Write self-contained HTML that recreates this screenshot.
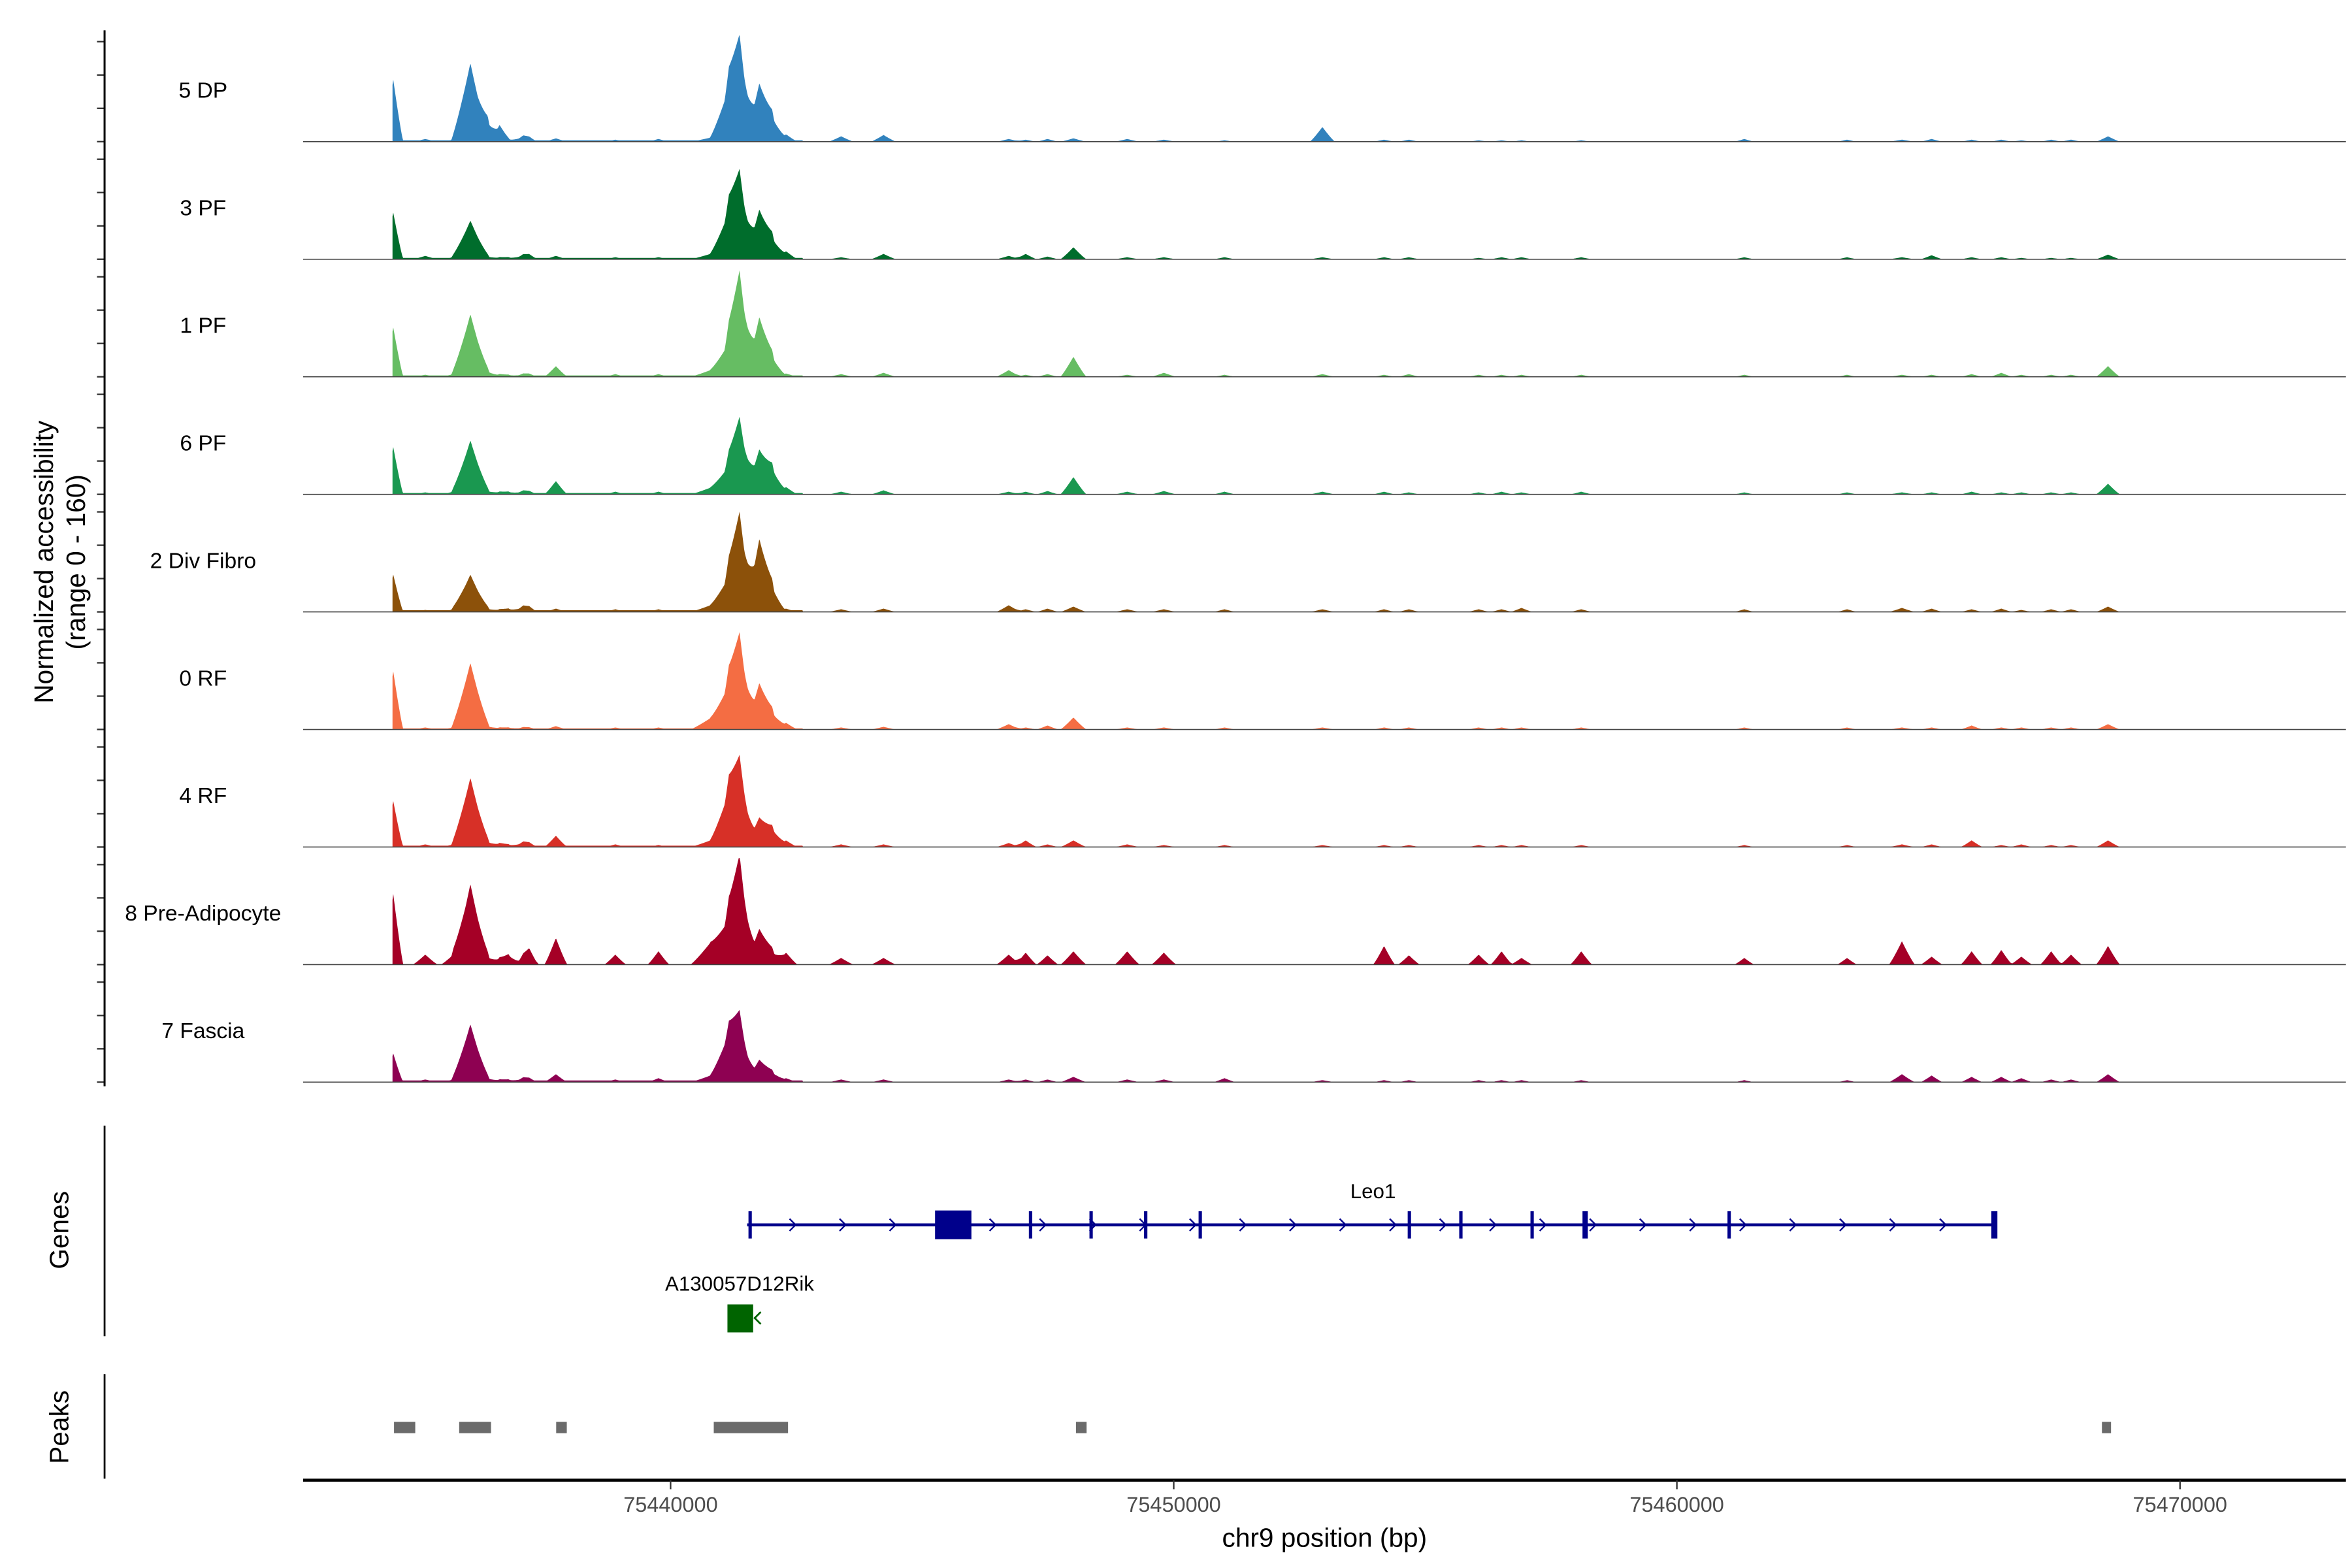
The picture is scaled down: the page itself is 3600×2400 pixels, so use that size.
<!DOCTYPE html>
<html><head><meta charset="utf-8"><style>
html,body{margin:0;padding:0;background:#fff;}
svg{display:block;}
text{font-family:"Liberation Sans",Arial,sans-serif;}
</style></head><body>
<svg id="chart" width="3600" height="2400" viewBox="0 0 1552 1035" preserveAspectRatio="none" xmlns="http://www.w3.org/2000/svg">
<rect x="0" y="0" width="1552" height="1035" fill="#fff"/>
<g id="tracks"></g>
<g id="yaxis"></g>
<text transform="translate(35,371) rotate(-90)" text-anchor="middle" font-size="17.5" fill="#000">Normalized accessibility</text>
<text transform="translate(56,371) rotate(-90)" text-anchor="middle" font-size="17.5" fill="#000">(range 0 - 160)</text>
<g id="genes"></g>
<line x1="69" y1="743" x2="69" y2="882" stroke="#000" stroke-width="1.2"/>
<text transform="translate(45,812) rotate(-90)" text-anchor="middle" font-size="17.5" fill="#000">Genes</text>
<g id="peaks"></g>
<line x1="69" y1="907" x2="69" y2="976" stroke="#000" stroke-width="1.2"/>
<text transform="translate(45,942) rotate(-90)" text-anchor="middle" font-size="17.5" fill="#000">Peaks</text>
<g id="xaxis"></g>
<text x="874" y="1021" text-anchor="middle" font-size="17.5" fill="#000">chr9 position (bp)</text>
</svg>
<script>
const trackNames = ["5 DP","3 PF","1 PF","6 PF","2 Div Fibro","0 RF","4 RF","8 Pre-Adipocyte","7 Fascia"];
const trackColors = ["#3182bd","#006d2c","#66bd63","#1a9850","#8c510a","#f46d43","#d73027","#a50026","#8e0152"];
const peakBp = [75434488,75435124,75435684,75436021,75436365,75436600,75436777,75437072,75437190,75437720,75438901,75439759,75440792,75441160,75441370,75441765,75442018,75442295,75443389,75444232,75446720,75447057,75447491,75448006,75449075,75449804,75451009,75452955,75454180,75454674,75456060,75456515,75456912,75458099,75461340,75463382,75464473,75465063,75465858,75466448,75466846,75467439,75467834,75468569];
const peakHalfWidthBp = [200,250,250,380,200,200,200,250,200,230,220,220,400,380,300,300,250,230,250,250,250,220,220,260,250,250,220,250,220,220,220,220,220,220,200,200,260,220,220,220,220,220,220,240];
const backgroundLevel = [2,2,2,2,2.5,1.5,2,0,2.5];
const sigDP = [93,4,3,118,31,25,4,8,4,5,3,4,6,80,130,88,38,11,8,10,4,3,4,5,4,3,2,22,3,3,2,2,2,2,4,3,3,4,3,3,2,3,3,8];
const sig3PF = [70,5,3,58,4,3,3,6,5,5,3,3,8,70,108,75,33,12,3,8,5,8,4,18,3,3,3,3,3,3,2,3,3,3,3,3,3,6,3,3,2,2,2,7];
const sig1PF = [74,3,4,94,8,4,3,4,3,16,4,4,10,50,140,90,30,5,4,6,10,3,4,30,3,6,3,4,3,4,3,3,3,3,3,3,3,3,4,6,3,3,3,16];
const sig6PF = [71,3,4,81,5,4,4,5,3,20,4,4,10,42,100,68,40,11,4,6,4,4,5,26,4,5,4,4,4,3,3,4,3,4,3,3,3,3,4,3,3,3,3,16];
const sig2Div = [56,3,4,56,5,4,5,8,5,5,4,4,10,52,130,110,37,5,4,5,10,4,5,8,4,4,4,4,4,4,4,4,6,4,4,4,6,5,4,5,3,4,4,8];
const sig0RF = [87,3,3,100,5,3,3,3,2,5,3,3,17,66,120,70,26,10,3,4,8,3,6,18,3,3,3,3,3,3,3,3,3,3,3,3,3,3,6,3,3,3,3,8];
const sig4RF = [69,4,4,104,8,6,4,7,4,17,4,3,10,82,106,45,28,10,4,4,6,10,4,10,4,3,3,3,3,3,3,3,3,3,3,3,4,4,10,3,4,3,3,10];
const sigPreAd = [106,15,15,121,12,10,15,10,20,40,15,20,33,66,140,54,20,18,10,10,15,18,14,20,20,18,0,0,28,14,15,20,10,20,10,10,35,12,20,22,12,20,15,28];
const sigFascia = [43,4,4,87,6,4,4,6,4,12,4,6,10,72,80,34,15,6,4,4,4,4,4,8,4,4,6,3,3,3,3,3,3,3,3,3,12,10,8,8,6,4,4,12];
const trackSignals = [sigDP,sig3PF,sig1PF,sig6PF,sig2Div,sig0RF,sig4RF,sigPreAd,sigFascia];
const xTicks = [75440000,75450000,75460000,75470000];
const leoExonBp = [75441581,75447154,75448358,75449443,75450527,75454683,75455707,75457123,75458177,75461039,75466310];
const leoStartBp = 75441521, leoEndBp = 75466340;
const leoUtrStart = 75445256, leoUtrEnd = 75445979;
const rikStartBp = 75441130, rikEndBp = 75441641;
const peakRegionStart = [75434503,75435798,75437726,75440858,75448057,75468448];
const peakRegionEnd = [75434925,75436431,75437937,75442334,75448268,75468629];

const NS = "http://www.w3.org/2000/svg";
const X0 = 200, X1 = 1548;
function xs(bp){ return 442.5 + (bp - 75440000) / 30.12; }
function xinv(px){ return 75440000 + (px - 442.5) * 30.12; }
const trackTop0 = 93.5, trackStep = 77.6, unitPx = 0.44;
function ys(i, v){ return trackTop0 + i * trackStep - v * unitPx; }
function mk(tag, attrs, parent){ const e = document.createElementNS(NS, tag); for (const k in attrs) e.setAttribute(k, attrs[k]); parent.appendChild(e); return e; }

const gT = document.getElementById("tracks");
const gY = document.getElementById("yaxis");
trackSignals.forEach((sig, i) => {
  let d = "";
  const xa = 259, xb = 1485;
  d += "M" + xa + "," + ys(i, 0);
  for (let px = xa; px <= xb; px += 0.5) {
    const bp = xinv(px);
    let v = 0;
    for (let k = 0; k < peakBp.length; k++) {
      const dd = Math.abs(bp - peakBp[k]);
      if (dd < peakHalfWidthBp[k]) v += sig[k] * Math.pow(1 - dd / peakHalfWidthBp[k], 1.15);
    }
    if (px < 530) v = Math.max(v, backgroundLevel[i]);
    if (v > 160) v = 160;
    d += "L" + px.toFixed(1) + "," + ys(i, v).toFixed(2);
  }
  d += "L" + xb + "," + ys(i, 0) + "Z";
  const p = mk("path", {d: d, fill: trackColors[i], stroke: "none"}, gT);
  
  
  const bl = mk("line", {x1: X0, x2: X1, y1: ys(i, 0), y2: ys(i, 0), stroke: "#444", "stroke-width": 0.7}, gT);
  
  
  const t = mk("text", {x: 134, y: ys(i, 0) - 29, "text-anchor": "middle", "font-size": 14.5, fill: "#000"}, gT);
  t.textContent = trackNames[i];
  
  
  [0, 50, 100, 150].forEach(v => {
    const tk = mk("line", {x1: 64, x2: 69, y1: ys(i, v), y2: ys(i, v), stroke: "#333", "stroke-width": 1}, gY);
    
    
  });
});
const yl = mk("line", {x1: 69, x2: 69, y1: 20, y2: 717, stroke: "#000", "stroke-width": 1.3}, gY);



// genes
const gG = document.getElementById("genes");
const blue = "#00008b", gy = 808.5;
const leo = mk("line", {x1: xs(leoStartBp), x2: xs(leoEndBp), y1: gy, y2: gy, stroke: blue, "stroke-width": 2}, gG);


for (let px = xs(leoStartBp) + 30; px < xs(leoEndBp) - 10; px += 33) {
  const a = mk("path", {d: "M" + (px - 2) + "," + (gy - 4) + "L" + (px + 2) + "," + gy + "L" + (px - 2) + "," + (gy + 4), fill: "none", stroke: blue, "stroke-width": 1}, gG);
  
  
}
leoExonBp.forEach((b, k) => {
  const w = (k === leoExonBp.length - 1) ? 4 : (k === 8 ? 3.5 : 2.2);
  const e = mk("rect", {x: xs(b) - w / 2, y: gy - 9, width: w, height: 18, fill: blue}, gG);
  
  
});
const utr = mk("rect", {x: xs(leoUtrStart), y: gy - 9.5, width: xs(leoUtrEnd) - xs(leoUtrStart), height: 19, fill: blue}, gG);


const lt = mk("text", {x: 906, y: 791, "text-anchor": "middle", "font-size": 13.5, fill: "#000"}, gG);
lt.textContent = "Leo1";


const rk = mk("rect", {x: xs(rikStartBp), y: 861, width: xs(rikEndBp) - xs(rikStartBp), height: 18.5, fill: "#006400"}, gG);


const ra = mk("path", {d: "M502,866L498,870L502,874", fill: "none", stroke: "#006400", "stroke-width": 1.2}, gG);


const rt = mk("text", {x: 488, y: 852, "text-anchor": "middle", "font-size": 13.5, fill: "#000"}, gG);
rt.textContent = "A130057D12Rik";



// peaks
const gP = document.getElementById("peaks");
peakRegionStart.forEach((s, k) => {
  const r = mk("rect", {x: xs(s), y: 938.5, width: Math.max(xs(peakRegionEnd[k]) - xs(s), 6), height: 7.5, fill: "#6b6b6b"}, gP);
  
  
});

// x axis
const gX = document.getElementById("xaxis");
const xl = mk("line", {x1: X0, x2: X1, y1: 977, y2: 977, stroke: "#000", "stroke-width": 2}, gX);


xTicks.forEach(t => {
  const tk = mk("line", {x1: xs(t), x2: xs(t), y1: 977, y2: 983, stroke: "#333", "stroke-width": 1}, gX);
  
  
  const tl = mk("text", {x: xs(t), y: 998, "text-anchor": "middle", "font-size": 14, fill: "#4d4d4d"}, gX);
  tl.textContent = String(t);
  
  
});
</script>
</body></html>
